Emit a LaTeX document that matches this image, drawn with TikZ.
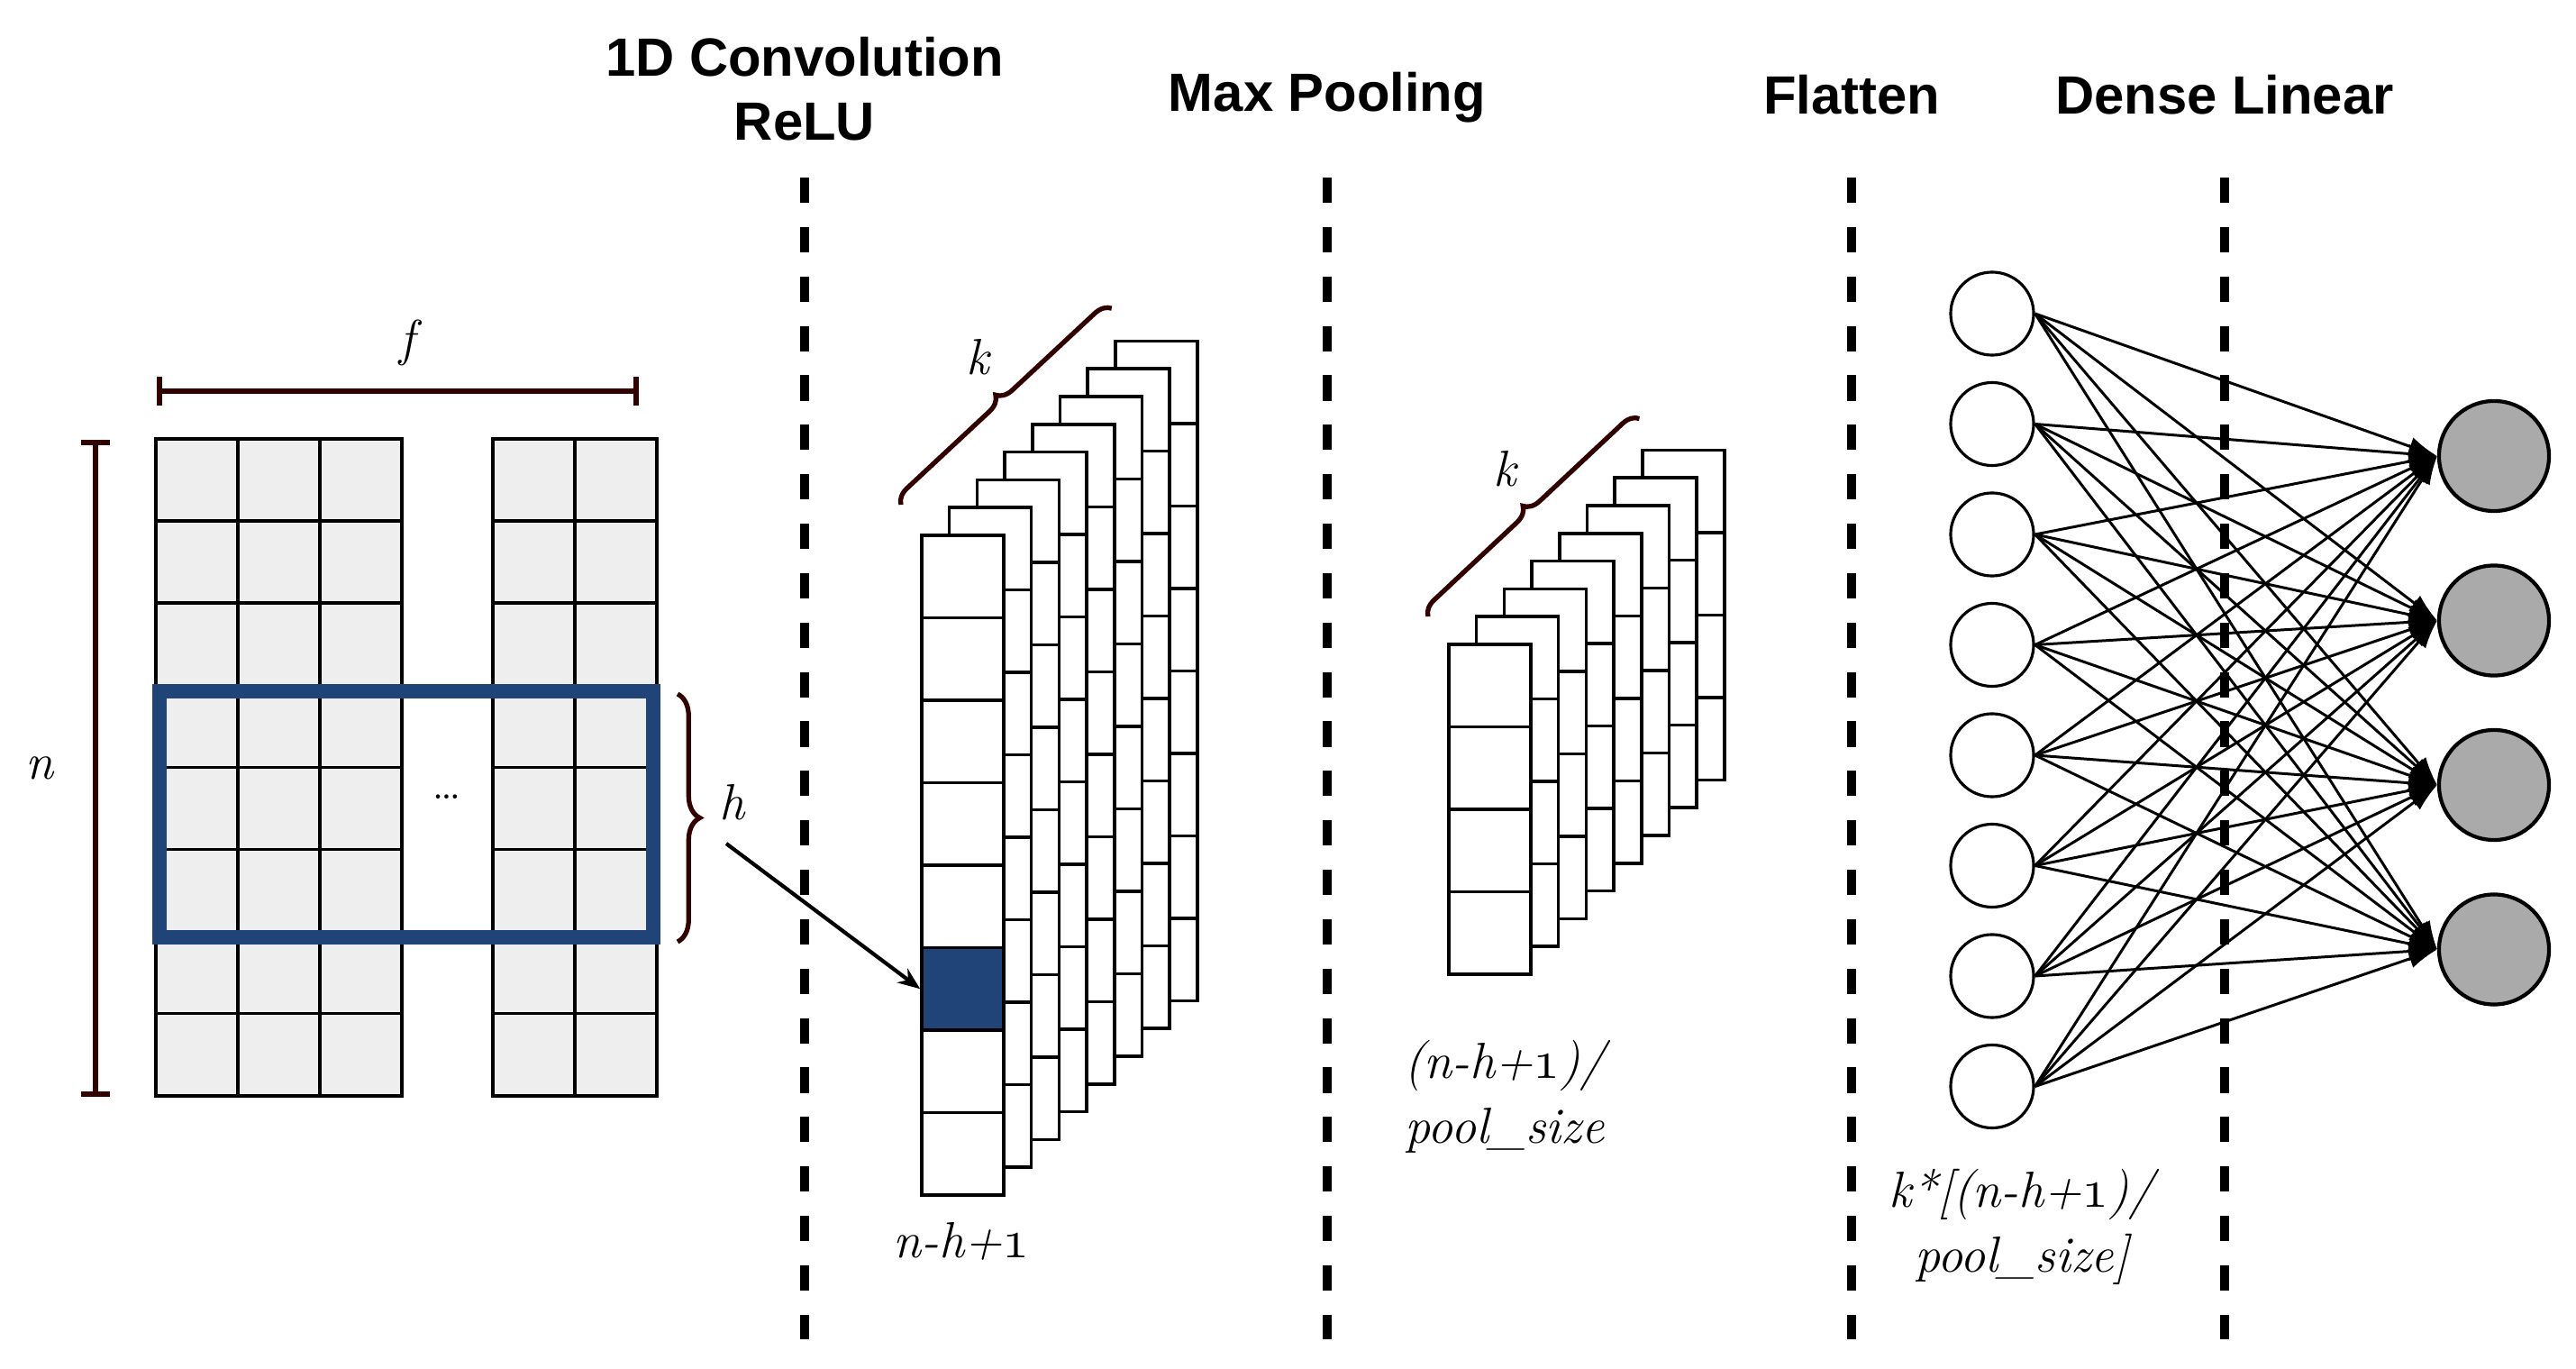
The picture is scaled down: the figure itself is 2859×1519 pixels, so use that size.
\documentclass[tikz,border=0pt]{standalone}
\usepackage{fontspec}
\usepackage{tikz}
\usetikzlibrary{arrows.meta}
\usetikzlibrary{decorations.pathreplacing}
\tikzset{>=latex}
\newfontfamily\headfont{Liberation Sans}
\definecolor{bracecol}{RGB}{51,0,0}
\definecolor{convblue}{RGB}{33,68,120}
\definecolor{cellgray}{RGB}{238,238,238}
\definecolor{outgray}{RGB}{170,170,170}
\def\linethickness{1pt}
\newcommand{\osone}{{\usefont{OML}{cmm}{m}{it}1}}
\tikzset{
    headtxt/.style={inner sep=0, font=\headfont\bfseries\fontsize{17}{20.2}\selectfont},
    lbl/.style={inner sep=0, align=center, font=\fontsize{16}{20.5}\selectfont\itshape},
    layersep/.style={line width=2.7pt, dash pattern=on 8pt off 7.6pt},
    dimbar/.style={bracecol, line width=1.8pt, {Bar[width=9pt]}-{Bar[width=9pt]}},
    curly/.style={bracecol, line width=1.5pt, decorate, decoration={brace, amplitude=#1}},
    curly/.default=5pt,
    cell/.style={draw, fill=cellgray, line width=\linethickness},
    fmap/.style={draw, fill=white, line width=\linethickness},
    bluecell/.style={draw, fill=convblue, line width=\linethickness, minimum width=0.91cm, minimum height=0.915cm, inner sep=0},
    neuron/.style={circle, draw, line width=0.9pt, minimum size=0.92cm, inner sep=0},
    outneuron/.style={circle, draw, fill=outgray, line width=1.2pt, minimum size=1.22cm, inner sep=0},
    conn/.style={line width=0.85pt, -{Latex[length=9pt, width=6pt]}},
}

\begin{document}
\begin{tikzpicture}[x=0.01cm, y=-0.01cm]
    \useasboundingbox (0, 0) rectangle (2859, 1519);

    \node[headtxt, align=center] at (893, 99) (hconv) {1D Convolution\\ReLU};
    \node[headtxt, anchor=base] at (1473, 124) (hpool) {Max Pooling};
    \node[headtxt, anchor=base] at (2055, 127) (hflat) {Flatten};
    \node[headtxt, anchor=base] at (2469, 127) (hdense) {Dense Linear};

    \foreach \x in {893, 1473, 2055, 2469}
        \draw[layersep] (\x, 197) -- (\x, 1486);

    % input matrix
    \foreach \x in {173, 264, 355, 547, 638}
        \foreach \r in {0,...,7}
            \draw[cell] (\x, 487+91.1*\r) rectangle ++(91, 91.1);
    \draw[convblue, line width=4.3pt] (177, 767) rectangle (725, 1040);
    \node[inner sep=0, font=\fontsize{16}{20}\selectfont] at (496, 884) (gap) {\dots};
    \draw[dimbar] (174, 434) -- (709, 434);
    \draw[dimbar] (106, 488) -- (106, 1217);
    \node[lbl] at (452, 380) (flab) {f};
    \node[lbl] at (44, 852) (nlab) {n};
    \draw[curly=7pt] (752, 770) -- (752, 1045);
    \node[lbl] at (813, 890) (hlab) {h};
    \coordinate (htip) at (806, 936);

    % convolution maps
    \foreach \i in {7,6,...,0} {
        \draw[fmap] (1023+30.7*\i, 594-30.8*\i) rectangle ++(91, 732);
        \foreach \r in {1,...,7}
            \draw[line width=\linethickness] (1023+30.7*\i, 594-30.8*\i+91.5*\r) -- ++(91, 0);
    }
    \node[bluecell] at (1068.5, 1097.25) (hit) {};
    \draw[line width=1.2pt, -{Stealth[length=7pt, width=5.5pt]}] (htip) -- (hit.west);
    \draw[curly] (1000, 560) -- (1234, 342);
    \node[lbl] at (1085, 396) (kconv) {k};
    \node[lbl] at (1067, 1377) (convlen) {n-h+\osone};

    % pooled maps
    \foreach \i in {7,6,...,0} {
        \draw[fmap] (1608+30.7*\i, 715-30.8*\i) rectangle ++(91, 366);
        \foreach \r in {1,2,3}
            \draw[line width=\linethickness] (1608+30.7*\i, 715-30.8*\i+91.5*\r) -- ++(91, 0);
    }
    \draw[curly] (1585, 684) -- (1820, 464);
    \node[lbl] at (1670, 520) (kpool) {k};
    \node[lbl] at (1670, 1217) (poollen) {(n-h+\osone)/\\pool\_size};

    % dense layer
    \foreach \i in {1,...,8}
        \node[neuron] at (2211, 225.5+122.5*\i) (in\i) {};
    \foreach \j in {1,...,4}
        \node[outneuron] at (2768, 323.5+182.5*\j) (out\j) {};
    \foreach \i in {1,...,8}
        \foreach \j in {1,...,4}
            \draw[conn] (in\i.east) -- (out\j.west);
    \node[lbl] at (2244, 1361) (flatlen) {k*[(n-h+\osone)/\\pool\_size]};
\end{tikzpicture}
\end{document}
